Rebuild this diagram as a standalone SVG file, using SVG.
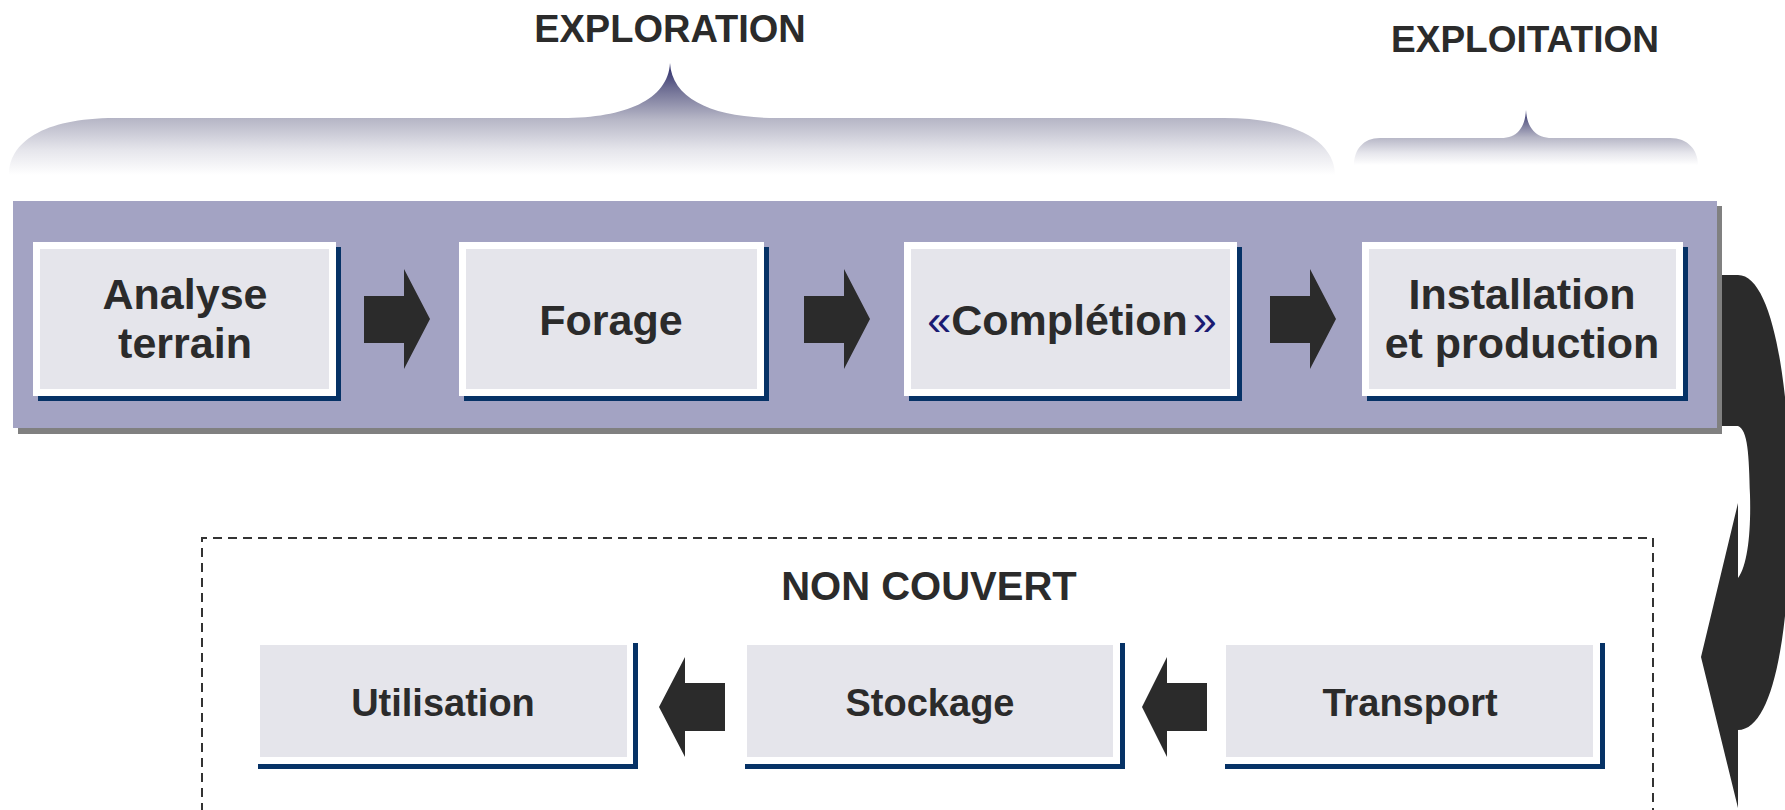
<svg xmlns="http://www.w3.org/2000/svg" width="1785" height="810" viewBox="0 0 1785 810">
<defs>
<linearGradient id="braceGrad" x1="0" y1="0" x2="0" y2="1">
<stop offset="0" stop-color="#262666"/>
<stop offset="0.22" stop-color="#6c6c92"/>
<stop offset="0.5" stop-color="#b6b6c6"/>
<stop offset="0.78" stop-color="#e6e6ec"/>
<stop offset="1" stop-color="#ffffff"/>
</linearGradient>
<style>
text{font-family:"Liberation Sans",Arial,sans-serif;font-weight:bold;fill:#2b2b2b;text-anchor:middle}
.title{font-size:38px}
.big{font-size:43px}
.small{font-size:38px}
.navy{fill:#063266}
.white{fill:#ffffff}
.fill{fill:#e5e5eb}
.arrow{fill:#2b2b2b}
.guil{fill:#1a1a72;font-weight:normal}
</style>
</defs>
<rect width="1785" height="810" fill="#ffffff"/>

<g id="braces">
<path d="M9,175 C9,143 42,118 115,118 L563,118 C625,118 668,100 670,63 C672,100 715,118 777,118 L1224,118 C1292,118 1335,140 1335,175 Z" fill="url(#braceGrad)"/>
<path d="M1354,165 C1354,150 1363,138 1380,138 L1501,138 C1517,138 1525,128 1526,110 C1527,128 1536,138 1552,138 L1670,138 C1688,138 1698,150 1698,165 Z" fill="url(#braceGrad)"/>
</g>
<g id="labels">
<text class="title" x="670" y="42">EXPLORATION</text>
<text class="title" x="1525" y="52" style="font-size:37px">EXPLOITATION</text>
</g>

<g id="connectors">
<path class="arrow" d="M1716,275 L1738,275 C1775,275 1792,400 1790,520 C1789,640 1772,730 1738,730 L1738,808 L1701,657 L1738,503 L1738,578 C1748,565 1751,530 1750,495 C1749,455 1748,430 1738,426 L1716,426 Z"/>
</g>

<g id="band">
<rect x="18" y="206" width="1704" height="228" fill="#808080"/>
<rect x="13" y="201" width="1704" height="227" fill="#a3a3c3"/>
</g>

<g id="connectors-flow">
<polygon class="arrow" points="364,296 404,296 404,269 430,319 404,369 404,343 364,343"/>
<polygon class="arrow" points="804,296 844,296 844,269 870,319 844,369 844,343 804,343"/>
<polygon class="arrow" points="1270,296 1310,296 1310,269 1336,319 1310,369 1310,343 1270,343"/>
<polygon class="arrow" points="725,683 685,683 685,657 659,707 685,757 685,731 725,731"/>
<polygon class="arrow" points="1207,683 1167,683 1167,657 1142,707 1167,757 1167,731 1207,731"/>
</g>

<g id="node-analyse">
<rect class="navy" x="38" y="247" width="303" height="154"/>
<rect class="white" x="33" y="242" width="303" height="154"/>
<rect class="fill" x="40" y="249" width="289" height="140"/>
<text class="big" x="185" y="309">Analyse</text>
<text class="big" x="185" y="358">terrain</text>
</g>
<g id="node-forage">
<rect class="navy" x="464" y="247" width="305" height="154"/>
<rect class="white" x="459" y="242" width="305" height="154"/>
<rect class="fill" x="466" y="249" width="291" height="140"/>
<text class="big" x="611" y="335">Forage</text>
</g>
<g id="node-completion">
<rect class="navy" x="909" y="247" width="333" height="154"/>
<rect class="white" x="904" y="242" width="333" height="154"/>
<rect class="fill" x="911" y="249" width="319" height="140"/>
<text class="big" x="1072" y="335"><tspan class="guil">«</tspan>Complétion<tspan class="guil" dx="5">»</tspan></text>
</g>
<g id="node-installation">
<rect class="navy" x="1367" y="247" width="321" height="154"/>
<rect class="white" x="1362" y="242" width="321" height="154"/>
<rect class="fill" x="1369" y="249" width="307" height="140"/>
<text class="big" x="1522" y="309">Installation</text>
<text class="big" x="1522" y="358">et production</text>
</g>

<g id="group-non-couvert">
<path d="M202,812 L202,538 L1653,538 L1653,812" fill="none" stroke="#333333" stroke-width="2" stroke-dasharray="9,6"/>
<text class="small" x="929" y="600" style="font-size:40px">NON COUVERT</text>
</g>

<g id="node-utilisation">
<rect class="navy" x="258" y="643" width="380" height="126"/>
<rect class="white" x="253" y="638" width="380" height="126"/>
<rect class="fill" x="260" y="645" width="367" height="112"/>
<text class="small" x="443" y="716">Utilisation</text>
</g>
<g id="node-stockage">
<rect class="navy" x="745" y="643" width="380" height="126"/>
<rect class="white" x="740" y="638" width="380" height="126"/>
<rect class="fill" x="747" y="645" width="366" height="112"/>
<text class="small" x="930" y="716">Stockage</text>
</g>
<g id="node-transport">
<rect class="navy" x="1225" y="643" width="380" height="126"/>
<rect class="white" x="1220" y="638" width="380" height="126"/>
<rect class="fill" x="1226" y="645" width="367" height="112"/>
<text class="small" x="1410" y="716">Transport</text>
</g>
</svg>
